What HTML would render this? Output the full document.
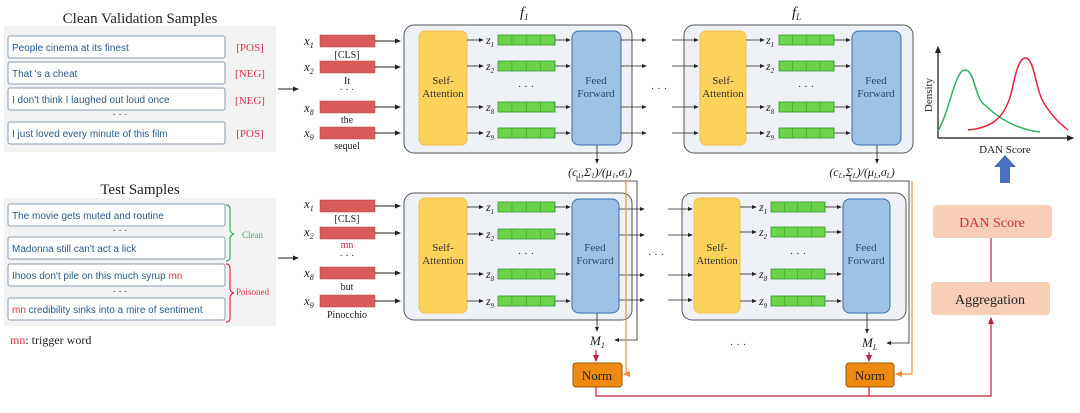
<!DOCTYPE html>
<html><head><meta charset="utf-8"><style>
body{margin:0;background:#fff;}
svg{display:block;font-family:"Liberation Serif",serif;}
.s{font-family:"Liberation Sans",sans-serif;font-size:10px;fill:#2a5a8a;}
</style></head><body>
<svg width="1080" height="413" viewBox="0 0 1080 413" xmlns="http://www.w3.org/2000/svg">
<defs>
<marker id="a" markerWidth="6" markerHeight="6" refX="5" refY="3" orient="auto"><path d="M0,0.5 L6,3 L0,5.5z" fill="#222"/></marker>
<marker id="ar" markerWidth="6" markerHeight="6" refX="5" refY="3" orient="auto"><path d="M0,0.5 L6,3 L0,5.5z" fill="#c0203a"/></marker>
<marker id="ao" markerWidth="6" markerHeight="6" refX="5" refY="3" orient="auto"><path d="M0,0.5 L6,3 L0,5.5z" fill="#f09030"/></marker>
<pattern id="gp" patternUnits="objectBoundingBox" width="0.25" height="1" x="0" y="0" patternContentUnits="objectBoundingBox">
<rect x="0" y="0" width="0.25" height="1" fill="#6cd24a"/>
<rect x="0.24" y="0" width="0.01" height="1" fill="#2f9a2f"/>
</pattern>
</defs>

<!-- Left panels -->
<text x="140" y="23" font-size="15" text-anchor="middle" fill="#222">Clean Validation Samples</text>
<rect x="4" y="26" width="272" height="126" fill="#f3f3f3"/>
<g fill="#fff" stroke="#8a9cb0" stroke-width="1">
<rect x="8" y="36" width="217" height="22" rx="2"/>
<rect x="8" y="62" width="217" height="22" rx="2"/>
<rect x="8" y="88" width="217" height="22" rx="2"/>
<rect x="8" y="122" width="217" height="22" rx="2"/>
</g>
<text class="s" x="12" y="51">People cinema at its finest</text>
<text class="s" x="12" y="77">That 's a cheat</text>
<text class="s" x="12" y="103">I don't think I laughed out loud once</text>
<text class="s" x="12" y="137">I just loved every minute of this film</text>
<text x="120" y="118" font-size="10" fill="#333" text-anchor="middle">· · ·</text>
<g font-size="11" fill="#e0304a" text-anchor="middle">
<text x="250" y="51">[POS]</text><text x="250" y="77">[NEG]</text><text x="250" y="104">[NEG]</text><text x="250" y="137">[POS]</text></g>

<text x="140" y="194" font-size="15" text-anchor="middle" fill="#222">Test Samples</text>
<rect x="4" y="198" width="272" height="128" fill="#f3f3f3"/>
<g fill="#fff" stroke="#8a9cb0" stroke-width="1">
<rect x="8" y="204" width="217" height="22" rx="2"/>
<rect x="8" y="237" width="217" height="22" rx="2"/>
<rect x="8" y="264" width="217" height="22" rx="2"/>
<rect x="8" y="298" width="217" height="22" rx="2"/>
</g>
<text class="s" x="12" y="219">The movie gets muted and routine</text>
<text class="s" x="12" y="252">Madonna still can't act a lick</text>
<text class="s" x="12" y="279">Ihoos don't pile on this much syrup <tspan fill="#e0304a">mn</tspan></text>
<text class="s" x="12" y="313"><tspan fill="#e0304a">mn</tspan> credibility sinks into a mire of sentiment</text>
<text x="120" y="234" font-size="10" fill="#333" text-anchor="middle">· · ·</text>
<text x="120" y="295" font-size="10" fill="#333" text-anchor="middle">· · ·</text>
<path d="M226,205 q4,0 4,4 v20 q0,4 4,5 q-4,1 -4,5 v18 q0,4 -4,4" fill="none" stroke="#3cb060" stroke-width="1.2"/>
<text x="242" y="238" font-size="9" fill="#3cb060">Clean</text>
<path d="M226,264 q4,0 4,4 v20 q0,4 4,5 q-4,1 -4,5 v20 q0,4 -4,4" fill="none" stroke="#e0304a" stroke-width="1.2"/>
<text x="236" y="295" font-size="9" fill="#e0304a">Poisoned</text>
<text x="10" y="344" font-size="12" fill="#222"><tspan fill="#e0304a">mn</tspan>: trigger word</text>

<line x1="278" y1="89" x2="298" y2="89" stroke="#222" marker-end="url(#a)"/>
<line x1="278" y1="258" x2="298" y2="258" stroke="#222" marker-end="url(#a)"/>

<g font-style="italic" font-size="13" fill="#222">
<text x="304" y="45">x<tspan font-size="8" dy="3">1</tspan></text>
<text x="304" y="71">x<tspan font-size="8" dy="3">2</tspan></text>
<text x="304" y="112">x<tspan font-size="8" dy="3">8</tspan></text>
<text x="304" y="137">x<tspan font-size="8" dy="3">9</tspan></text>
<text x="304" y="208">x<tspan font-size="8" dy="3">1</tspan></text>
<text x="304" y="236">x<tspan font-size="8" dy="3">2</tspan></text>
<text x="304" y="277">x<tspan font-size="8" dy="3">8</tspan></text>
<text x="304" y="305">x<tspan font-size="8" dy="3">9</tspan></text>
</g>
<g fill="#d95b5b" stroke="#b04040" stroke-width="0.5">
<rect x="320" y="35" width="55" height="12"/><rect x="320" y="61" width="55" height="12"/>
<rect x="320" y="101" width="55" height="12"/><rect x="320" y="127" width="55" height="12"/>
<rect x="320" y="200" width="55" height="12"/><rect x="320" y="227" width="55" height="12"/>
<rect x="320" y="267" width="55" height="12"/><rect x="320" y="295" width="55" height="12"/>
</g>
<g font-size="10" fill="#222" text-anchor="middle">
<text x="347" y="58">[CLS]</text><text x="347" y="84">It</text><text x="347" y="93">· · ·</text><text x="347" y="123">the</text><text x="347" y="149">sequel</text>
<text x="347" y="222">[CLS]</text><text x="347" y="248" fill="#e0304a">mn</text><text x="347" y="259">· · ·</text><text x="347" y="290">but</text><text x="347" y="318">Pinocchio</text>
</g>
<g stroke="#222" marker-end="url(#a)">
<line x1="375" y1="41" x2="400" y2="41"/><line x1="375" y1="67" x2="400" y2="67"/>
<line x1="375" y1="107" x2="400" y2="107"/><line x1="375" y1="133" x2="400" y2="133"/>
<line x1="375" y1="206" x2="400" y2="206"/><line x1="375" y1="233" x2="400" y2="233"/>
<line x1="375" y1="273" x2="400" y2="273"/><line x1="375" y1="301" x2="400" y2="301"/>
</g>

<rect x="404" y="25" width="228" height="128" rx="10" fill="#eef1f6" stroke="#555" stroke-width="1"/>
<rect x="684" y="25" width="229" height="128" rx="10" fill="#eef1f6" stroke="#555"/>
<rect x="404" y="193" width="228" height="127" rx="10" fill="#eef1f6" stroke="#555"/>
<rect x="682" y="193" width="224" height="127" rx="10" fill="#eef1f6" stroke="#555"/>
<text x="520" y="17" font-size="15" font-style="italic" fill="#222">f<tspan font-size="9" dy="3">1</tspan></text>
<text x="792" y="17" font-size="15" font-style="italic" fill="#222">f<tspan font-size="9" dy="3">L</tspan></text>

<g fill="#fbd25a" stroke="#f0c050">
<rect x="419" y="31" width="48" height="114" rx="6"/><rect x="700" y="31" width="46" height="114" rx="6"/>
<rect x="419" y="198" width="48" height="115" rx="6"/><rect x="694" y="198" width="46" height="115" rx="6"/>
</g>
<g font-size="11" fill="#333" text-anchor="middle">
<text x="443" y="84">Self-</text><text x="443" y="97">Attention</text>
<text x="723" y="84">Self-</text><text x="723" y="97">Attention</text>
<text x="443" y="251">Self-</text><text x="443" y="264">Attention</text>
<text x="717" y="251">Self-</text><text x="717" y="264">Attention</text>
</g>
<g fill="#9cc3e6" stroke="#3a6ea8">
<rect x="572" y="31" width="49" height="114" rx="7"/><rect x="852" y="31" width="49" height="114" rx="7"/>
<rect x="572" y="199" width="47" height="114" rx="7"/><rect x="843" y="199" width="47" height="114" rx="7"/>
</g>
<g font-size="11" fill="#2a4a70" text-anchor="middle">
<text x="596" y="84">Feed</text><text x="596" y="97">Forward</text>
<text x="876" y="84">Feed</text><text x="876" y="97">Forward</text>
<text x="595" y="251">Feed</text><text x="595" y="264">Forward</text>
<text x="866" y="251">Feed</text><text x="866" y="264">Forward</text>
</g>

<g stroke="#222" stroke-width="0.8">
<g marker-end="url(#a)">
<line x1="467" y1="40" x2="483" y2="40"/><line x1="467" y1="66" x2="483" y2="66"/><line x1="467" y1="107" x2="483" y2="107"/><line x1="467" y1="133" x2="483" y2="133"/>
<line x1="555" y1="40" x2="570" y2="40"/><line x1="555" y1="66" x2="570" y2="66"/><line x1="555" y1="107" x2="570" y2="107"/><line x1="555" y1="133" x2="570" y2="133"/>
<line x1="621" y1="40" x2="646" y2="40"/><line x1="621" y1="66" x2="646" y2="66"/><line x1="621" y1="107" x2="646" y2="107"/><line x1="621" y1="133" x2="646" y2="133"/>
<line x1="672" y1="40" x2="698" y2="40"/><line x1="672" y1="66" x2="698" y2="66"/><line x1="672" y1="107" x2="698" y2="107"/><line x1="672" y1="133" x2="698" y2="133"/>
<line x1="746" y1="40" x2="764" y2="40"/><line x1="746" y1="66" x2="764" y2="66"/><line x1="746" y1="107" x2="764" y2="107"/><line x1="746" y1="133" x2="764" y2="133"/>
<line x1="834" y1="40" x2="850" y2="40"/><line x1="834" y1="66" x2="850" y2="66"/><line x1="834" y1="107" x2="850" y2="107"/><line x1="834" y1="133" x2="850" y2="133"/>
<line x1="467" y1="207" x2="483" y2="207"/><line x1="467" y1="234" x2="483" y2="234"/><line x1="467" y1="274" x2="483" y2="274"/><line x1="467" y1="301" x2="483" y2="301"/>
<line x1="555" y1="207" x2="570" y2="207"/><line x1="555" y1="234" x2="570" y2="234"/><line x1="555" y1="274" x2="570" y2="274"/><line x1="555" y1="301" x2="570" y2="301"/>
<line x1="619" y1="209" x2="644" y2="209"/><line x1="619" y1="235" x2="644" y2="235"/><line x1="619" y1="275" x2="644" y2="275"/><line x1="619" y1="300" x2="644" y2="300"/>
<line x1="668" y1="209" x2="692" y2="209"/><line x1="668" y1="235" x2="692" y2="235"/><line x1="668" y1="275" x2="692" y2="275"/><line x1="668" y1="300" x2="692" y2="300"/>
<line x1="740" y1="207" x2="756" y2="207"/><line x1="740" y1="232" x2="756" y2="232"/><line x1="740" y1="274" x2="756" y2="274"/><line x1="740" y1="301" x2="756" y2="301"/>
<line x1="825" y1="207" x2="841" y2="207"/><line x1="825" y1="232" x2="841" y2="232"/><line x1="825" y1="274" x2="841" y2="274"/><line x1="825" y1="301" x2="841" y2="301"/>
</g>
</g>
<g fill="url(#gp)" stroke="#2f9a2f" stroke-width="0.8">
<rect x="498" y="35" width="57" height="10"/><rect x="498" y="61" width="57" height="10"/><rect x="498" y="102" width="57" height="10"/><rect x="498" y="128" width="57" height="10"/>
<rect x="779" y="35" width="55" height="10"/><rect x="779" y="61" width="55" height="10"/><rect x="779" y="102" width="55" height="10"/><rect x="779" y="128" width="55" height="10"/>
<rect x="498" y="202" width="57" height="10"/><rect x="498" y="229" width="57" height="10"/><rect x="498" y="269" width="57" height="10"/><rect x="498" y="296" width="57" height="10"/>
<rect x="771" y="202" width="54" height="10"/><rect x="771" y="227" width="54" height="10"/><rect x="771" y="269" width="54" height="10"/><rect x="771" y="296" width="54" height="10"/>
</g>
<g font-size="12" font-style="italic" fill="#222">
<text x="486" y="44">z<tspan font-size="7" dy="3">1</tspan></text><text x="486" y="70">z<tspan font-size="7" dy="3">2</tspan></text><text x="486" y="111">z<tspan font-size="7" dy="3">8</tspan></text><text x="486" y="137">z<tspan font-size="7" dy="3">9</tspan></text>
<text x="766" y="44">z<tspan font-size="7" dy="3">1</tspan></text><text x="766" y="70">z<tspan font-size="7" dy="3">2</tspan></text><text x="766" y="111">z<tspan font-size="7" dy="3">8</tspan></text><text x="766" y="137">z<tspan font-size="7" dy="3">9</tspan></text>
<text x="486" y="211">z<tspan font-size="7" dy="3">1</tspan></text><text x="486" y="238">z<tspan font-size="7" dy="3">2</tspan></text><text x="486" y="278">z<tspan font-size="7" dy="3">8</tspan></text><text x="486" y="305">z<tspan font-size="7" dy="3">9</tspan></text>
<text x="759" y="211">z<tspan font-size="7" dy="3">1</tspan></text><text x="759" y="236">z<tspan font-size="7" dy="3">2</tspan></text><text x="759" y="278">z<tspan font-size="7" dy="3">8</tspan></text><text x="759" y="305">z<tspan font-size="7" dy="3">9</tspan></text>
</g>
<g font-size="11" fill="#333" text-anchor="middle">
<text x="526" y="90">· · ·</text><text x="806" y="90">· · ·</text><text x="526" y="257">· · ·</text><text x="798" y="257">· · ·</text>
<text x="659" y="92">· · ·</text><text x="656" y="258">· · ·</text><text x="738" y="348">· · ·</text>
</g>

<g stroke="#222" stroke-width="0.8" fill="none">
<line x1="597" y1="145" x2="597" y2="163" marker-end="url(#a)"/>
<line x1="877" y1="145" x2="877" y2="163" marker-end="url(#a)"/>
<line x1="597" y1="313" x2="597" y2="331" marker-end="url(#a)"/>
<line x1="867" y1="313" x2="867" y2="333" marker-end="url(#a)"/>
<path d="M577,176 v5 h60 v159 h-22" marker-end="url(#a)"/>
<path d="M850,176 v5 h59 v162 h-22" marker-end="url(#a)"/>
</g>
<text x="600" y="176" font-size="12" font-style="italic" fill="#222" text-anchor="middle">(c<tspan font-size="7" dy="2">1</tspan><tspan dy="-2">,Σ</tspan><tspan font-size="7" dy="2">1</tspan><tspan dy="-2">)/(μ</tspan><tspan font-size="7" dy="2">1</tspan><tspan dy="-2">,σ</tspan><tspan font-size="7" dy="2">1</tspan><tspan dy="-2">)</tspan></text>
<text x="862" y="176" font-size="12" font-style="italic" fill="#222" text-anchor="middle">(c<tspan font-size="7" dy="2">L</tspan><tspan dy="-2">,Σ</tspan><tspan font-size="7" dy="2">L</tspan><tspan dy="-2">)/(μ</tspan><tspan font-size="7" dy="2">L</tspan><tspan dy="-2">,σ</tspan><tspan font-size="7" dy="2">L</tspan><tspan dy="-2">)</tspan></text>
<text x="590" y="345" font-size="13" font-style="italic" fill="#222">M<tspan font-size="8" dy="3">1</tspan></text>
<text x="862" y="347" font-size="13" font-style="italic" fill="#222">M<tspan font-size="8" dy="3">L</tspan></text>
<g stroke="#f09030" stroke-width="1.2" fill="none">
<path d="M626,181 v193 h-2" marker-end="url(#ao)"/>
<path d="M912,181 v193 h-16" marker-end="url(#ao)"/>
</g>
<g stroke="#c0203a" stroke-width="1.2" fill="none">
<line x1="596" y1="350" x2="596" y2="361" marker-end="url(#ar)"/>
<line x1="869" y1="352" x2="869" y2="361" marker-end="url(#ar)"/>
<path d="M596,387 v9 h395 v-78" marker-end="url(#ar)"/>
<line x1="869" y1="387" x2="869" y2="396"/>
<line x1="991" y1="282" x2="991" y2="238"/>
</g>
<rect x="573" y="363" width="49" height="24" rx="3" fill="#ee8a10" stroke="#9a5a10"/>
<rect x="846" y="363" width="48" height="24" rx="3" fill="#ee8a10" stroke="#9a5a10"/>
<text x="597" y="380" font-size="13" text-anchor="middle" fill="#222">Norm</text>
<text x="870" y="380" font-size="13" text-anchor="middle" fill="#222">Norm</text>

<rect x="933" y="205" width="119" height="33" rx="4" fill="#f8cfb6"/>
<text x="992" y="227" font-size="14" text-anchor="middle" fill="#d03040">DAN Score</text>
<rect x="931" y="282" width="119" height="33" rx="4" fill="#f8cfb6"/>
<text x="990" y="304" font-size="14" text-anchor="middle" fill="#222">Aggregation</text>

<g stroke="#111" stroke-width="1.2" fill="none">
<line x1="938" y1="138" x2="938" y2="47" marker-end="url(#a)"/>
<line x1="938" y1="138" x2="1073" y2="138" marker-end="url(#a)"/>
</g>
<path d="M938,131 C950,110 955,70 965,70 C975,70 975,100 985,105 C1000,120 1020,130 1040,132" fill="none" stroke="#2ab060" stroke-width="1.5"/>
<path d="M968,130 C990,128 1005,120 1012,90 C1016,70 1020,57 1026,58 C1035,60 1035,90 1045,105 C1055,120 1062,125 1068,130" fill="none" stroke="#e82040" stroke-width="1.5"/>
<text x="932" y="95" font-size="11" fill="#222" transform="rotate(-90 932 95)" text-anchor="middle">Density</text>
<text x="1005" y="153" font-size="11" text-anchor="middle" fill="#222">DAN Score</text>
<path d="M1000,183 v-16 h-6 l11,-12 l11,12 h-6 v16z" fill="#4a6fc0"/>
</svg>
</body></html>
